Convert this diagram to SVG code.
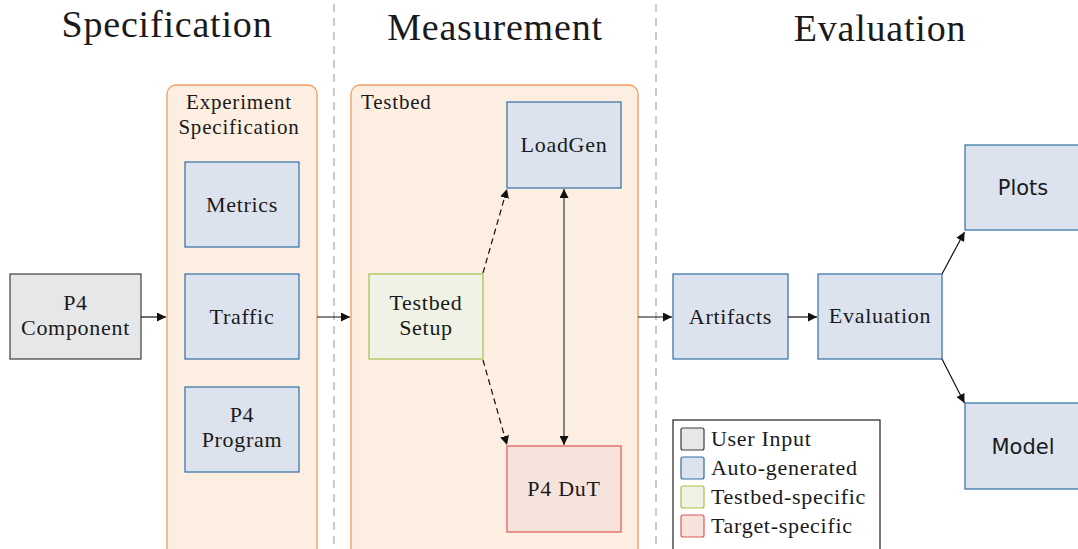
<svg xmlns="http://www.w3.org/2000/svg" width="1078" height="549" viewBox="0 0 1078 549">
  <defs>
    <style>
      text { font-family: 'Liberation Serif', 'Times New Roman', serif; fill: #1a1a1a; }
      .title { font-size: 38px; letter-spacing: 0.8px; text-anchor: middle; }
      .lbl { font-size: 22px; letter-spacing: 0.7px; text-anchor: middle; }
      .sub { font-size: 21px; letter-spacing: 0.8px; }
      .sans { font-family: 'DejaVu Sans', 'Liberation Sans', sans-serif; font-size: 21px; text-anchor: middle; letter-spacing: 0; }
      .leg { font-size: 22px; letter-spacing: 0.7px; }
      .cont { fill: #fdeee2; stroke: #f29a5c; stroke-width: 1.3; }
      .user { fill: #e6e7e9; stroke: #3c3c3c; stroke-width: 1.2; }
      .auto { fill: #dce3ee; stroke: #2f6ea6; stroke-width: 1.2; }
      .tb { fill: #eff2e4; stroke: #a4c24c; stroke-width: 1.2; }
      .tgt { fill: #f6e3dc; stroke: #de5656; stroke-width: 1.2; }
      .sep { stroke: #bdbdbd; stroke-width: 1.6; stroke-dasharray: 8 6; fill: none; }
      .arr { stroke: #111; stroke-width: 1.2; fill: none; marker-end: url(#ah); }
      .dash { stroke-dasharray: 6 4; }
    </style>
    <marker id="ah" viewBox="0 0 10 10" refX="10" refY="5" markerWidth="9" markerHeight="9" markerUnits="userSpaceOnUse" orient="auto">
      <path d="M0,0 L10,5 L0,10 z" fill="#111"/>
    </marker>
    <marker id="ahg" viewBox="0 0 10 10" refX="10" refY="5" markerWidth="9" markerHeight="9" markerUnits="userSpaceOnUse" orient="auto-start-reverse">
      <path d="M0,0 L10,5 L0,10 z" fill="#111"/>
    </marker>
  </defs>

  <rect width="1078" height="549" fill="#ffffff"/>

  <!-- column headings -->
  <text class="title" x="167" y="37">Specification</text>
  <text class="title" x="495" y="40">Measurement</text>
  <text class="title" x="880" y="41">Evaluation</text>

  <!-- column separators -->
  <line class="sep" x1="334" y1="4" x2="334" y2="549"/>
  <line class="sep" x1="656" y1="4" x2="656" y2="549"/>

  <g id="experiment-specification">
    <rect class="cont" x="167" y="85" width="150" height="480" rx="9"/>
    <text class="lbl sub" x="239" y="109">Experiment</text>
    <text class="lbl sub" x="239" y="134">Specification</text>
  </g>

  <g id="testbed">
    <rect class="cont" x="351" y="85" width="287" height="480" rx="9"/>
    <text class="sub" x="361" y="109">Testbed</text>
  </g>

  <g id="p4-component">
    <rect class="user" x="10" y="274" width="131" height="85"/>
    <text class="lbl" x="75.5" y="310">P4</text>
    <text class="lbl" x="75.5" y="335">Component</text>
  </g>

  <g id="metrics">
    <rect class="auto" x="185" y="162" width="114" height="85"/>
    <text class="lbl" x="242" y="212">Metrics</text>
  </g>

  <g id="traffic">
    <rect class="auto" x="185" y="274" width="114" height="85"/>
    <text class="lbl" x="242" y="324">Traffic</text>
  </g>

  <g id="p4-program">
    <rect class="auto" x="185" y="387" width="114" height="85"/>
    <text class="lbl" x="242" y="422">P4</text>
    <text class="lbl" x="242" y="447">Program</text>
  </g>

  <g id="loadgen">
    <rect class="auto" x="507" y="102" width="114" height="86"/>
    <text class="lbl" x="564" y="152">LoadGen</text>
  </g>

  <g id="testbed-setup">
    <rect class="tb" x="369" y="274" width="114" height="85"/>
    <text class="lbl" x="426" y="310">Testbed</text>
    <text class="lbl" x="426" y="335">Setup</text>
  </g>

  <g id="p4-dut">
    <rect class="tgt" x="507" y="446" width="114" height="86"/>
    <text class="lbl" x="564" y="496">P4 DuT</text>
  </g>

  <g id="artifacts">
    <rect class="auto" x="673" y="274" width="115" height="85"/>
    <text class="lbl" x="730.5" y="324">Artifacts</text>
  </g>

  <g id="evaluation">
    <rect class="auto" x="818" y="274" width="124" height="85"/>
    <text class="lbl" x="880" y="323">Evaluation</text>
  </g>

  <g id="plots">
    <rect class="auto" x="965" y="145" width="120" height="85"/>
    <text class="sans" x="1023" y="195">Plots</text>
  </g>

  <g id="model">
    <rect class="auto" x="965" y="403" width="120" height="86"/>
    <text class="sans" x="1023" y="454">Model</text>
  </g>

  <g id="connectors">
    <line class="arr" x1="141" y1="317" x2="166" y2="317"/>
    <line class="arr" x1="317" y1="317" x2="350" y2="317"/>
    <line class="arr" x1="638" y1="317" x2="672" y2="317"/>
    <line class="arr" x1="788" y1="317" x2="817" y2="317"/>
    <line class="arr" x1="942" y1="274" x2="964.5" y2="232"/>
    <line class="arr" x1="942" y1="359" x2="964.5" y2="403"/>
    <line class="arr dash" x1="483" y1="273" x2="507" y2="189"/>
    <line class="arr dash" x1="483" y1="360" x2="507" y2="445"/>
    <line stroke="#555" stroke-width="1.4" x1="564" y1="189" x2="564" y2="445" marker-start="url(#ahg)" marker-end="url(#ahg)"/>
  </g>

  <g id="legend">
    <rect x="673" y="420" width="207" height="140" fill="#ffffff" stroke="#222" stroke-width="1.2"/>
    <rect class="user" x="681" y="428" width="23" height="22" rx="2"/>
    <rect class="auto" x="681" y="457" width="23" height="22" rx="2"/>
    <rect class="tb" x="681" y="486" width="23" height="22" rx="2"/>
    <rect class="tgt" x="681" y="515" width="23" height="22" rx="2"/>
    <text class="leg" x="711" y="446">User Input</text>
    <text class="leg" x="711" y="475">Auto-generated</text>
    <text class="leg" x="711" y="504">Testbed-specific</text>
    <text class="leg" x="711" y="533">Target-specific</text>
  </g>
</svg>
